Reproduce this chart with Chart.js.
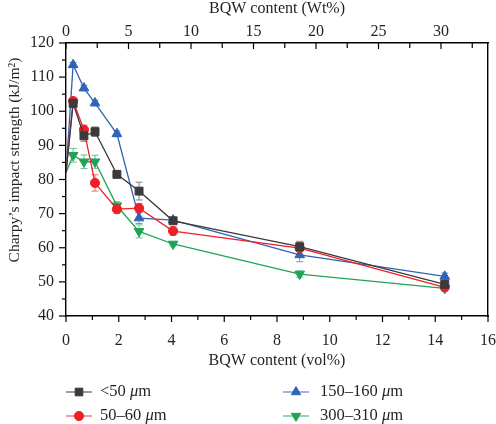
<!DOCTYPE html>
<html>
<head>
<meta charset="utf-8">
<script src="https://cdn.jsdelivr.net/npm/chart.js@4/dist/chart.umd.min.js"></script>
<style>
  html, body { margin: 0; padding: 0; background: #fff; }
  #wrap { width: 496px; height: 424px; }
</style>
</head>
<body>
<div id="wrap"><canvas id="chart" width="496" height="424"></canvas></div>
<script>
// BQW content (vol%) for every sample
const volContent = [0, 0.27, 0.68, 1.1, 1.93, 2.77, 4.06, 8.86, 14.36];

// Charpy impact strength (kJ/m2) per particle size
const impactLt50   = [82, 102.3, 92.8, 94.0, 81.5, 76.6, 67.9, 60.3, 49.3];
const impact50_60  = [82, 103.0, 94.6, 79.0, 71.3, 71.6, 64.9, 59.9, 48.4];
const impact150_160 = [82, 113.6, 106.8, 102.4, 93.4, 68.7, 68.1, 57.9, 51.6];
const impact300_310 = [82, 87.1, 85.2, 85.2, 72.3, 64.8, 61.1, 52.3, 48.1];

// standard deviations (error bars)
const errLt50    = [0, 1.0, 1.6, 1.4, 1.0, 2.6, 0.9, 1.4, 1.0];
const err50_60   = [0, 1.0, 1.3, 2.4, 1.2, 1.4, 1.2, 2.0, 0.8];
const err150_160 = [0, 0.7, 0.8, 0.8, 0.9, 1.6, 0.8, 2.0, 1.0];
const err300_310 = [0, 2.0, 2.0, 1.9, 1.2, 1.9, 0.6, 0.9, 0.8];

const seriesLabels = ['<50 ', '50\u201360 ', '150\u2013160 ', '300\u2013310 '];

// axis ranges / ticks
const volMax = 16, volStep = 2;
const wtMax = 33.76, wtStep = 5;
const yMin = 40, yMax = 120, yStep = 10;

const SERIF = "'Liberation Serif', 'DejaVu Serif', serif";
const TXT = '#231f20';

function pts(ys) {
  return volContent.map((x, i) => ({ x: x, y: ys[i] }));
}

function mkSet(label, ys, errs, color, errColor, legColor, style, rot, r) {
  return {
    label: label,
    data: pts(ys),
    errors: errs,
    errColor: errColor,
    legColor: legColor,
    borderColor: color,
    backgroundColor: color,
    borderWidth: 1.3,
    pointStyle: style,
    pointRotation: rot,
    pointRadius: c => c.dataIndex === 0 ? 0 : r,
    pointHoverRadius: r,
    pointBorderWidth: 1,
    tension: 0,
    fill: false
  };
}

const datasets = [
  mkSet(seriesLabels[0], impactLt50, errLt50, '#3b3b3b', '#808080', '#6a6a6a', 'rect', 0, 5.6),
  mkSet(seriesLabels[1], impact50_60, err50_60, '#ec2027', '#f07070', '#f26a6a', 'circle', 0, 4.6),
  mkSet(seriesLabels[2], impact150_160, err150_160, '#2f63b6', '#7096d4', '#6890d0', 'triangle', 0, 5.6),
  mkSet(seriesLabels[3], impact300_310, err300_310, '#20a357', '#62c28c', '#58bd84', 'triangle', 180, 5.6)
];

function line(ctx, x1, y1, x2, y2) {
  ctx.beginPath(); ctx.moveTo(x1, y1); ctx.lineTo(x2, y2); ctx.stroke();
}

const extras = {
  id: 'extras',
  beforeDatasetsDraw(chart) {
    const ctx = chart.ctx, xs = chart.scales.x, ys = chart.scales.y;
    chart.data.datasets.forEach(ds => {
      ctx.save();
      ctx.strokeStyle = ds.errColor;
      ctx.lineWidth = 1;
      ds.data.forEach((p, j) => {
        const e = ds.errors[j];
        if (!e) return;
        const px = xs.getPixelForValue(p.x);
        const t = ys.getPixelForValue(p.y + e), b = ys.getPixelForValue(p.y - e);
        line(ctx, px, t, px, b);
        line(ctx, px - 3.5, t, px + 3.5, t);
        line(ctx, px - 3.5, b, px + 3.5, b);
      });
      ctx.restore();
    });
  },
  afterDraw(chart) {
    const ctx = chart.ctx, a = chart.chartArea;
    const xs = chart.scales.x, x2 = chart.scales.x2, ys = chart.scales.y;
    ctx.save();
    ctx.strokeStyle = '#000';
    ctx.lineWidth = 1.2;
    // bottom ticks (outside)
    for (let v = 0; v <= volMax; v += 1) {
      const px = xs.getPixelForValue(v);
      line(ctx, px, a.bottom, px, a.bottom + (v % volStep === 0 ? 6 : 4));
    }
    // top ticks (inside)
    for (let v = 0; v <= wtMax; v += wtStep / 2) {
      const px = x2.getPixelForValue(v);
      line(ctx, px, a.top, px, a.top + (v % wtStep === 0 ? 6 : 5));
    }
    // left ticks (outside) and their labels
    ctx.fillStyle = TXT;
    ctx.font = '16px ' + SERIF;
    ctx.textAlign = 'right';
    ctx.textBaseline = 'middle';
    for (let v = yMin; v <= yMax; v += yStep / 2) {
      const py = ys.getPixelForValue(v);
      const major = v % yStep === 0;
      line(ctx, a.left, py, a.left - (major ? 7 : 4), py);
      if (major) ctx.fillText(String(v), a.left - 12, py);
    }
    // y title
    ctx.font = '15.5px ' + SERIF;
    ctx.textAlign = 'center';
    ctx.save();
    ctx.translate(15, 160);
    ctx.rotate(-Math.PI / 2);
    ctx.fillText('Charpy\u2019s impact strength (kJ/m\u00b2)', 0, 0);
    ctx.restore();

    // legend, two columns
    const slots = [[66, 392, 100], [66, 416, 100], [283, 392, 320], [283, 416, 320]];
    chart.data.datasets.forEach((ds, i) => {
      const [lx, ly, tx0] = slots[i];
      ctx.strokeStyle = ds.legColor;
      ctx.lineWidth = 1.3;
      line(ctx, lx, ly, lx + 26, ly);
      ctx.fillStyle = ds.backgroundColor;
      ctx.strokeStyle = ds.backgroundColor;
      ctx.lineWidth = 1;
      Chart.helpers.drawPoint(ctx, {
        pointStyle: ds.pointStyle,
        rotation: ds.pointRotation,
        radius: ds.pointStyle === 'circle' ? 4.6 : 5.4,
        borderWidth: 1
      }, lx + 13, ly);
      ctx.fillStyle = TXT;
      ctx.textAlign = 'left';
      let tx = tx0;
      ctx.font = '16.5px ' + SERIF;
      ctx.fillText(ds.label, tx, ly);
      tx += ctx.measureText(ds.label).width;
      ctx.font = 'italic 16.5px ' + SERIF;
      ctx.fillText('\u03bc', tx, ly);
      tx += ctx.measureText('\u03bc').width;
      ctx.font = '16.5px ' + SERIF;
      ctx.fillText('m', tx, ly);
    });
    ctx.restore();
  }
};

const tickFont = { family: SERIF, size: 16 };
const titleFont = { family: SERIF, size: 16 };

function noSidePad(s) {
  s.paddingLeft = 0;
  s.paddingRight = 0;
}

new Chart(document.getElementById('chart'), {
  type: 'line',
  data: { datasets: datasets },
  options: {
    responsive: false,
    animation: false,
    layout: { padding: { left: 0, right: 0, top: 0, bottom: 52 } },
    plugins: { legend: { display: false }, tooltip: { enabled: false } },
    scales: {
      x: {
        type: 'linear',
        position: 'bottom',
        min: 0, max: volMax,
        grid: { display: false },
        border: { display: true, color: '#000', width: 1.4 },
        ticks: { stepSize: volStep, color: TXT, font: tickFont, padding: 7, maxRotation: 0 },
        title: { display: true, text: 'BQW content (vol%)', color: TXT, font: titleFont, padding: { top: 2, bottom: 2 } },
        afterFit: s => { s.height = 56; noSidePad(s); }
      },
      x2: {
        type: 'linear',
        position: 'top',
        min: 0, max: wtMax,
        grid: { display: false },
        border: { display: true, color: '#000', width: 1.4 },
        ticks: { stepSize: wtStep, includeBounds: false, color: TXT, font: tickFont, padding: -6, maxRotation: 0 },
        title: { display: true, text: 'BQW content (Wt%)', color: TXT, font: titleFont, padding: { top: -1, bottom: 0 } },
        afterFit: s => { s.height = 43; noSidePad(s); }
      },
      y: {
        type: 'linear',
        min: yMin, max: yMax,
        grid: { display: false },
        border: { display: true, color: '#000', width: 1.4 },
        ticks: { stepSize: yStep, display: false },
        afterFit: s => { s.width = 66; s.paddingTop = 0; s.paddingBottom = 0; }
      },
      y2: {
        type: 'linear',
        position: 'right',
        min: yMin, max: yMax,
        grid: { display: false },
        border: { display: true, color: '#000', width: 1.4 },
        ticks: { display: false },
        afterFit: s => { s.width = 8; }
      }
    }
  },
  plugins: [extras]
});
</script>
</body>
</html>
